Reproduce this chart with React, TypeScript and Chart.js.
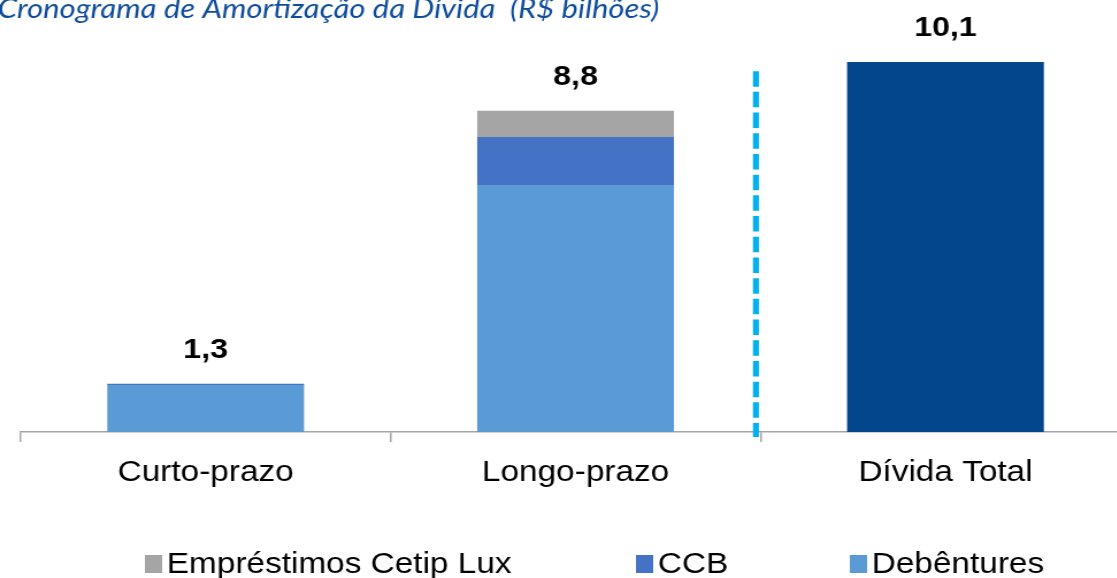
import React, { useEffect, useRef } from "react";
import { Chart, registerables } from "chart.js";

Chart.register(...registerables);

// ---- data ----
const categories = ["Curto-prazo", "Longo-prazo", "Dívida Total"];
const debentures = [1.28, 6.74, null];
const ccb = [0.04, 1.31, null];
const cetipLux = [0, 0.72, null];
const dividaTotal = [null, null, 10.1];
const seriesNames = ["Debêntures", "CCB", "Empréstimos Cetip Lux", "Dívida Total"];
const titleText = "Cronograma de Amortização da Dívida  (R$ bilhões)";
const yMax = 11;
const dividerTopValue = 9.85;

// ---- styles ----
const STRETCH = 1.15;
const W = 984;
const H = 578;
const FONT = "'Liberation Sans', Arial, sans-serif";
const colors = {
  debentures: "#5B9BD5",
  ccb: "#4472C4",
  cetip: "#A5A5A5",
  total: "#03468C",
  axis: "#A6A6A6",
  divider: "#00B0F0",
  title: "#0E4C9B",
};

const overlayPlugin = {
  id: "overlay",
  afterDatasetsDraw(chart: any) {
    const ctx = chart.ctx;
    const x = chart.scales.x;
    const y = chart.scales.y;
    ctx.save();
    // value labels
    ctx.font = `bold 28px ${FONT}`;
    ctx.fillStyle = "#000";
    ctx.textAlign = "center";
    ctx.textBaseline = "alphabetic";
    categories.forEach((_, i) => {
      const total = chart.data.datasets.reduce(
        (s: number, d: any) => s + (Number(d.data[i]) || 0),
        0
      );
      const px = x.getPixelForValue(i);
      const py = y.getPixelForValue(total);
      ctx.fillText(total.toFixed(1).replace(".", ","), px, py - 26);
    });
    // dashed divider
    const dx = (x.getPixelForValue(1) + x.getPixelForValue(2)) / 2 - 4;
    ctx.beginPath();
    ctx.setLineDash([15.5, 5.2]);
    ctx.lineWidth = 5.2;
    ctx.strokeStyle = colors.divider;
    ctx.moveTo(dx, y.getPixelForValue(dividerTopValue));
    ctx.lineTo(dx, y.getPixelForValue(0) + 5);
    ctx.stroke();
    ctx.setLineDash([]);
    ctx.restore();
  },
  afterDraw(chart: any) {
    const ctx = chart.ctx;
    ctx.save();
    // title
    ctx.font = `italic 27px Lato, 'Open Sans', sans-serif`;
    ctx.fillStyle = colors.title;
    ctx.textAlign = "left";
    ctx.textBaseline = "alphabetic";
    ctx.fillText(titleText, -2, 18);
    // legend
    const ds = chart.data.datasets;
    const items = [ds[2], ds[1], ds[0]];
    const xs = [126, 553, 739];
    ctx.font = `29px ${FONT}`;
    items.forEach((d: any, i: number) => {
      ctx.fillStyle = d.backgroundColor;
      ctx.fillRect(xs[i], 555, 15, 18);
      ctx.fillStyle = "#000";
      ctx.fillText(d.label, xs[i] + 19, 573);
    });
    ctx.restore();
  },
};

export default function App() {
  const ref = useRef<HTMLCanvasElement | null>(null);
  useEffect(() => {
    document.body.style.margin = "0";
    if (!ref.current) return;
    const chart = new Chart(ref.current, {
      type: "bar",
      data: {
        labels: categories,
        datasets: [
          { label: seriesNames[0], data: debentures, backgroundColor: colors.debentures },
          { label: seriesNames[1], data: ccb, backgroundColor: colors.ccb },
          { label: seriesNames[2], data: cetipLux, backgroundColor: colors.cetip },
          { label: seriesNames[3], data: dividaTotal, backgroundColor: colors.total },
        ],
      },
      options: {
        animation: false,
        responsive: false,
        maintainAspectRatio: false,
        events: [],
        datasets: {
          bar: { barPercentage: 0.532, categoryPercentage: 1, borderWidth: 0 },
        },
        layout: { padding: { top: 29, left: 18, right: 1, bottom: 0 } },
        plugins: {
          legend: { display: false },
          tooltip: { enabled: false },
          title: { display: false },
        },
        scales: {
          x: {
            stacked: true,
            offset: true,
            grid: {
              display: true,
              offset: true,
              drawOnChartArea: false,
              drawTicks: true,
              tickLength: 10,
              color: colors.axis,
              lineWidth: 1.5,
            },
            border: { display: true, color: colors.axis, width: 1.5 },
            ticks: {
              color: "#000",
              font: { family: FONT, size: 29 },
              padding: 14,
              maxRotation: 0,
              autoSkip: false,
            },
            afterFit: (s: any) => {
              s.height = 146;
            },
          },
          y: {
            stacked: true,
            display: false,
            min: 0,
            max: yMax,
          },
        },
      },
      plugins: [overlayPlugin],
    });
    return () => chart.destroy();
  }, []);

  return (
    <div style={{ position: "relative", width: 1117, height: H, overflow: "hidden", background: "#fff" }}>
      <div
        style={{
          position: "absolute",
          left: 0,
          top: 0,
          width: W,
          height: H,
          transform: `scaleX(${STRETCH})`,
          transformOrigin: "0 0",
        }}
      >
        <canvas ref={ref} width={W} height={H} />
      </div>
    </div>
  );
}
